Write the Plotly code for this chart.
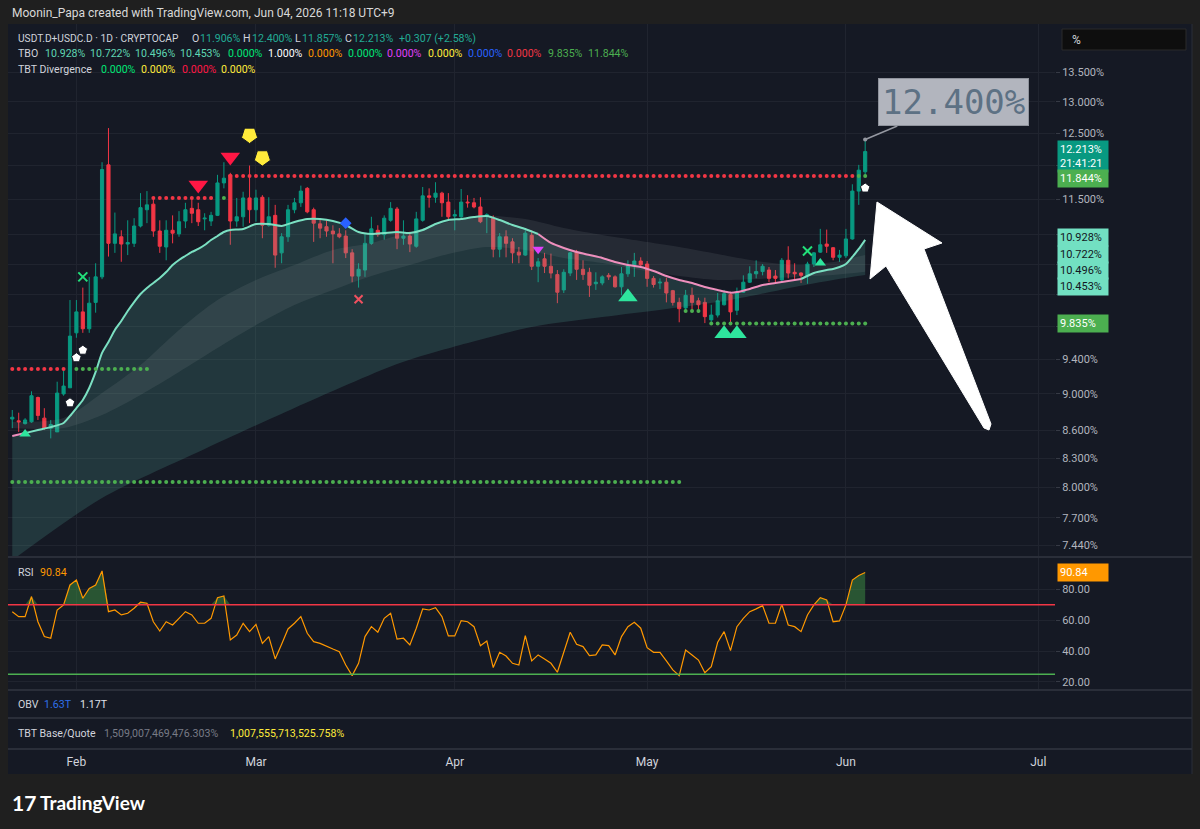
import math
import pandas as pd
import plotly.graph_objects as go

W, H = 1200, 829
def px(x): return x / W
def py(y): return 1 - y / H
def lg(v): return math.log10(v)

FONT = "Roboto, 'Noto Sans', sans-serif"
BG = "#151924"
OUTER = "#1f1f1f"
GRID = "#20242f"
SEP = "#2a2e39"
UP = "#089981"
DN = "#f23645"
TXT = "#d1d4dc"

# ---------------- data ----------------
dates = pd.date_range("2026-01-22", periods=134, freq="D")

opens = [8.72, 8.70, 8.67, 8.69, 8.96, 8.73, 8.62, 8.58, 9.00, 9.07,
         9.72, 9.98, 9.77, 10.10, 10.43, 12.01, 10.88, 10.97, 10.87, 10.88,
         11.12, 11.35, 11.43, 11.05, 10.83, 11.06, 11.01, 11.19, 11.37, 11.35,
         11.22, 11.19, 11.27, 11.74, 11.86, 11.19, 11.25, 11.52, 11.35, 11.53,
         11.13, 11.27, 10.75, 10.97, 11.35, 11.45, 11.66, 11.35, 11.15, 11.11,
         11.05, 11.01, 10.98, 10.75, 10.44, 10.52, 10.88, 11.06, 11.00, 11.20,
         11.36, 10.95, 10.98, 10.84, 11.20, 11.55, 11.53, 11.59, 11.46, 11.26,
         11.25, 11.46, 11.45, 11.39, 11.26, 11.23, 10.80, 10.97, 10.90, 10.76,
         10.72, 10.99, 10.57, 10.67, 10.57, 10.46, 10.26, 10.48, 10.76, 10.53,
         10.49, 10.34, 10.35, 10.45, 10.43, 10.30, 10.47, 10.57, 10.64, 10.60,
         10.41, 10.35, 10.36, 10.25, 10.10, 10.03, 10.19, 10.12, 10.10, 9.88,
         9.94, 10.07, 10.20, 10.00, 10.23, 10.36, 10.47, 10.50, 10.52, 10.44,
         10.39, 10.65, 10.49, 10.48, 10.44, 10.60, 10.76, 10.87, 10.82, 10.69,
         10.71, 10.94, 11.62, 11.906]
highs = [8.82, 8.79, 8.73, 9.03, 8.97, 8.84, 8.71, 9.14, 9.30, 10.13,
         10.13, 10.29, 10.43, 10.61, 12.05, 12.58, 11.31, 11.06, 11.20, 11.23,
         11.59, 11.62, 11.53, 11.20, 11.20, 11.27, 11.33, 11.45, 11.52, 11.45,
         11.30, 11.32, 11.86, 12.05, 11.89, 11.52, 11.61, 12.00, 11.64, 11.56,
         11.53, 11.42, 11.02, 11.42, 11.52, 11.70, 11.68, 11.38, 11.23, 11.20,
         11.13, 11.09, 11.06, 10.80, 10.61, 11.02, 11.25, 11.13, 11.27, 11.46,
         11.39, 11.20, 11.04, 11.32, 11.68, 11.66, 11.75, 11.61, 11.59, 11.35,
         11.65, 11.56, 11.52, 11.53, 11.30, 11.27, 11.02, 11.06, 10.95, 10.83,
         11.06, 11.06, 10.68, 10.75, 10.74, 10.52, 10.53, 10.76, 10.79, 10.65,
         10.55, 10.49, 10.45, 10.48, 10.45, 10.56, 10.65, 10.75, 10.69, 10.64,
         10.44, 10.41, 10.42, 10.26, 10.16, 10.26, 10.29, 10.16, 10.16, 10.07,
         10.22, 10.26, 10.22, 10.29, 10.45, 10.57, 10.65, 10.60, 10.56, 10.52,
         10.68, 10.84, 10.61, 10.49, 10.63, 10.76, 11.08, 11.07, 10.83, 10.79,
         11.08, 11.72, 12.01, 12.40]
lows = [8.62, 8.58, 8.66, 8.68, 8.71, 8.60, 8.51, 8.58, 8.98, 9.07,
        9.66, 9.72, 9.72, 9.97, 10.40, 10.70, 10.75, 10.63, 10.72, 10.83,
        11.10, 11.16, 10.97, 10.75, 10.65, 10.88, 10.97, 11.09, 11.16, 11.12,
        11.06, 11.12, 11.26, 11.66, 10.86, 11.11, 11.11, 11.16, 11.18, 10.95,
        11.11, 10.55, 10.61, 10.90, 11.30, 11.39, 11.30, 10.90, 10.95, 10.97,
        10.61, 10.95, 10.68, 10.36, 10.29, 10.43, 10.86, 10.97, 10.93, 11.18,
        10.80, 10.86, 10.76, 10.82, 11.18, 11.38, 11.45, 11.25, 11.20, 11.06,
        11.22, 11.38, 11.37, 11.16, 11.02, 10.69, 10.69, 10.69, 10.61, 10.61,
        10.71, 10.52, 10.36, 10.48, 10.41, 10.09, 10.22, 10.44, 10.39, 10.39,
        10.17, 10.26, 10.32, 10.39, 10.29, 10.19, 10.43, 10.43, 10.55, 10.30,
        10.29, 10.27, 10.10, 10.06, 9.85, 9.98, 10.00, 9.97, 9.84, 9.85,
        9.91, 10.06, 9.85, 9.94, 10.22, 10.35, 10.41, 10.45, 10.36, 10.35,
        10.36, 10.41, 10.39, 10.35, 10.34, 10.56, 10.75, 10.75, 10.65, 10.63,
        10.68, 10.93, 11.42, 11.857]
closes = [8.74, 8.69, 8.71, 8.98, 8.76, 8.62, 8.66, 9.01, 9.09, 9.68,
          9.98, 9.77, 10.09, 10.43, 11.94, 10.88, 11.01, 10.87, 10.89, 11.12,
          11.38, 11.42, 11.05, 10.84, 11.06, 11.02, 11.18, 11.35, 11.30, 11.18,
          11.23, 11.27, 11.74, 11.81, 11.19, 11.25, 11.52, 11.35, 11.52, 11.13,
          11.25, 10.72, 10.97, 11.35, 11.45, 11.62, 11.32, 11.16, 11.09, 11.05,
          11.01, 10.97, 10.75, 10.44, 10.53, 10.88, 11.08, 11.00, 11.23, 11.37,
          10.95, 10.98, 10.87, 11.22, 11.55, 11.53, 11.59, 11.45, 11.25, 11.28,
          11.46, 11.45, 11.39, 11.18, 11.28, 10.80, 10.97, 10.88, 10.75, 10.72,
          11.02, 10.57, 10.63, 10.57, 10.48, 10.23, 10.49, 10.75, 10.53, 10.46,
          10.32, 10.36, 10.43, 10.43, 10.30, 10.47, 10.58, 10.64, 10.59, 10.41,
          10.33, 10.36, 10.22, 10.10, 10.02, 10.19, 10.10, 10.07, 9.92, 9.94,
          10.12, 10.21, 9.98, 10.23, 10.36, 10.47, 10.50, 10.57, 10.41, 10.41,
          10.65, 10.48, 10.47, 10.45, 10.60, 10.75, 10.86, 10.84, 10.69, 10.72,
          10.94, 11.62, 11.93, 12.213]

rsi = [65.5, 62.3, 62.3, 75.3, 59.0, 49.4, 48.3, 66.6, 69.9, 82.8,
       86.0, 74.2, 80.6, 82.8, 91.9, 65.5, 66.6, 63.4, 64.5, 67.7,
       71.6, 71.0, 59.0, 53.0, 59.0, 56.9, 61.2, 65.5, 63.4, 58.0,
       58.0, 61.2, 74.6, 75.7, 47.2, 50.4, 58.0, 52.6, 57.3, 45.0,
       49.4, 34.9, 44.4, 54.3, 58.0, 62.3, 51.5, 46.1, 45.0, 42.9,
       41.3, 39.6, 31.0, 24.1, 32.1, 49.4, 55.8, 52.2, 61.2, 64.5,
       47.8, 48.3, 44.0, 54.8, 67.3, 66.6, 68.1, 62.3, 49.8, 49.8,
       59.7, 59.0, 55.8, 43.5, 46.5, 29.3, 39.2, 36.8, 32.1, 31.0,
       50.0, 33.6, 37.5, 34.9, 32.1, 26.3, 39.6, 52.2, 44.4, 42.9,
       37.1, 37.5, 44.0, 43.5, 37.5, 49.4, 55.8, 58.6, 54.8, 42.2,
       39.2, 39.2, 33.6, 27.8, 24.1, 40.7, 37.5, 34.2, 26.0, 29.9,
       45.7, 52.6, 40.3, 55.8, 61.2, 65.5, 67.3, 69.4, 58.0, 58.0,
       70.3, 56.9, 55.8, 52.6, 63.4, 69.9, 74.6, 73.1, 59.0, 59.5,
       69.9, 86.0, 88.9, 90.84]
rsi_upper, rsi_lower = 70, 25

# TBO fast line (sampled)
fast_dates = ["2026-01-22", "2026-01-24", "2026-01-26", "2026-01-28", "2026-01-30", "2026-01-31",
              "2026-02-01", "2026-02-02", "2026-02-03", "2026-02-04", "2026-02-05", "2026-02-06",
              "2026-02-07", "2026-02-08", "2026-02-09", "2026-02-10", "2026-02-11", "2026-02-12",
              "2026-02-13", "2026-02-14", "2026-02-15", "2026-02-16", "2026-02-17", "2026-02-18",
              "2026-02-19", "2026-02-20", "2026-02-21", "2026-02-22", "2026-02-23", "2026-02-24",
              "2026-02-25", "2026-02-27", "2026-03-01", "2026-03-03", "2026-03-05", "2026-03-07",
              "2026-03-09", "2026-03-11", "2026-03-13", "2026-03-15", "2026-03-17", "2026-03-19",
              "2026-03-21", "2026-03-23", "2026-03-25", "2026-03-27", "2026-03-29", "2026-03-31",
              "2026-04-02", "2026-04-04", "2026-04-06", "2026-04-08", "2026-04-10", "2026-04-12",
              "2026-04-14", "2026-04-16", "2026-04-18", "2026-04-20", "2026-04-22", "2026-04-24",
              "2026-04-26", "2026-04-28", "2026-04-30", "2026-05-02", "2026-05-04", "2026-05-06",
              "2026-05-08", "2026-05-10", "2026-05-12", "2026-05-14", "2026-05-15", "2026-05-17",
              "2026-05-19", "2026-05-21", "2026-05-23", "2026-05-25", "2026-05-27", "2026-05-29",
              "2026-05-30", "2026-05-31", "2026-06-01", "2026-06-02", "2026-06-03", "2026-06-04"]
fast_vals = [8.536, 8.567, 8.600, 8.632, 8.677, 8.754,
             8.842, 8.932, 9.068, 9.253, 9.477, 9.609,
             9.755, 9.866, 9.991, 10.104, 10.207, 10.285,
             10.350, 10.415, 10.494, 10.587, 10.654, 10.708,
             10.762, 10.803, 10.857, 10.926, 10.981, 11.036,
             11.064, 11.078, 11.148, 11.148, 11.120, 11.176,
             11.218, 11.218, 11.190, 11.134, 11.036, 11.009,
             11.022, 11.036, 11.022, 11.064, 11.148, 11.204,
             11.218, 11.246, 11.260, 11.204, 11.134, 11.078,
             11.009, 10.885, 10.816, 10.762, 10.721, 10.681,
             10.627, 10.587, 10.560, 10.507, 10.441, 10.389,
             10.350, 10.298, 10.259, 10.225, 10.232, 10.272,
             10.324, 10.350, 10.376, 10.402, 10.481, 10.520,
             10.534, 10.560, 10.601, 10.695, 10.803, 10.928]

# TBO mid lines and slow line (sampled)
band_dates = ["2026-01-22", "2026-01-30", "2026-02-05", "2026-02-11", "2026-02-17", "2026-02-23",
              "2026-03-01", "2026-03-07", "2026-03-13", "2026-03-19", "2026-03-25", "2026-03-31",
              "2026-04-06", "2026-04-12", "2026-04-18", "2026-04-24", "2026-04-30", "2026-05-06",
              "2026-05-12", "2026-05-18", "2026-05-24", "2026-05-30", "2026-06-04"]
mid_vals = [8.688, 8.732, 9.011, 9.334, 9.755, 10.130,
            10.389, 10.587, 10.789, 10.885, 11.036, 11.176,
            11.260, 11.218, 11.092, 10.995, 10.912, 10.830,
            10.735, 10.641, 10.587, 10.627, 10.722]
mid2_vals = [8.622, 8.622, 8.765, 8.989, 9.253, 9.536,
             9.816, 10.067, 10.259, 10.441, 10.587, 10.735,
             10.830, 10.789, 10.681, 10.614, 10.520, 10.441,
             10.389, 10.402, 10.428, 10.454, 10.496]
slow_dates = ["2026-01-22", "2026-02-05", "2026-02-20", "2026-03-07", "2026-03-23", "2026-03-30",
              "2026-04-13", "2026-04-24", "2026-05-04", "2026-05-14", "2026-05-24", "2026-05-30",
              "2026-06-04"]
slow_vals = [7.30, 7.895, 8.366, 8.843, 9.346, 9.512,
             9.792, 9.915, 10.016, 10.130, 10.298, 10.389, 10.453]

# dotted support / resistance levels
red_level_start = ["2026-01-22", "2026-02-13", "2026-02-25"]
red_level_end = ["2026-01-30", "2026-02-22", "2026-06-02"]
red_level_val = [9.288, 11.519, 11.844]
green_level_start = ["2026-02-01", "2026-02-24", "2026-06-03", "2026-01-22", "2026-05-07", "2026-05-11"]
green_level_end = ["2026-02-12", "2026-02-24", "2026-06-04", "2026-05-06", "2026-05-09", "2026-06-04"]
green_level_val = [9.288, 11.519, 11.844, 8.055, 9.99, 9.835]

# signal markers
sell_tri_dates = ["2026-02-20", "2026-02-25"]
sell_tri_vals = [11.71, 12.13]
yellow_dates = ["2026-02-28", "2026-03-02"]
yellow_vals = [12.47, 12.12]
white_dates = ["2026-01-31", "2026-02-01", "2026-02-02", "2026-06-04"]
white_vals = [8.90, 9.42, 9.51, 11.665]
greenx_dates = ["2026-02-02", "2026-05-26"]
greenx_vals = [10.43, 10.775]
redx_dates = ["2026-03-17"]
redx_vals = [10.14]
blue_dates = ["2026-03-15"]
blue_vals = [11.16]
magenta_dates = ["2026-04-14"]
magenta_vals = [10.80]
buy_big_dates = ["2026-04-28", "2026-05-13", "2026-05-15"]
buy_big_vals = [10.17, 9.71, 9.71]
buy_small_dates = ["2026-01-24", "2026-05-28"]
buy_small_vals = [8.557, 10.614]

last_close = 12.213
last_high = 12.400

price_ticks = [7.44, 7.7, 8.0, 8.3, 8.6, 9.0, 9.4, 9.8, 10.2, 10.6, 11.0, 11.5, 12.0, 12.5, 13.0, 13.5]
hidden_ticks = [9.8, 10.2, 10.6, 11.0, 12.0]   # labels covered by the price tags
rsi_ticks = [20, 40, 60, 80]
month_ticks = ["2026-02-01", "2026-03-01", "2026-04-01", "2026-05-01", "2026-06-01", "2026-07-01"]
month_names = ["Feb", "Mar", "Apr", "May", "Jun", "Jul"]

# ---------------- figure ----------------
X0, X1 = "2026-01-21 08:00", "2026-07-03 14:24"
fig = go.Figure()

# ribbon fills
fig.add_trace(go.Scatter(x=slow_dates, y=slow_vals, mode="lines",
                         line=dict(width=0, shape="spline", smoothing=0.8), hoverinfo="skip"))
fig.add_trace(go.Scatter(x=fast_dates, y=fast_vals, mode="lines",
                         line=dict(width=0, shape="spline", smoothing=0.6), fill="tonexty",
                         fillcolor="rgba(80,165,150,0.22)", hoverinfo="skip"))
fig.add_trace(go.Scatter(x=band_dates, y=mid2_vals, mode="lines",
                         line=dict(width=0, shape="spline", smoothing=0.8), hoverinfo="skip"))
fig.add_trace(go.Scatter(x=band_dates, y=mid_vals, mode="lines",
                         line=dict(width=0, shape="spline", smoothing=0.8), fill="tonexty",
                         fillcolor="rgba(170,178,185,0.11)", hoverinfo="skip"))

# candles
fig.add_trace(go.Candlestick(
    x=dates, open=opens, high=highs, low=lows, close=closes,
    increasing=dict(line=dict(color=UP, width=1), fillcolor=UP),
    decreasing=dict(line=dict(color=DN, width=1), fillcolor=DN),
    whiskerwidth=0, hoverinfo="skip"))

# fast line, coloured segments
i_apr14 = fast_dates.index("2026-04-14")
i_may25 = fast_dates.index("2026-05-25")
TEAL_L = "#7be0c2"
PINK_L = "#ee8fbd"
segs = [(0, 2, PINK_L), (1, i_apr14 + 1, TEAL_L), (i_apr14, i_may25 + 1, PINK_L), (i_may25, len(fast_dates), TEAL_L)]
for a, b, c in segs:
    fig.add_trace(go.Scatter(x=fast_dates[a:b], y=fast_vals[a:b], mode="lines",
                             line=dict(color=c, width=2, shape="spline", smoothing=0.6), hoverinfo="skip"))

# dotted levels
for s, e, v in zip(red_level_start, red_level_end, red_level_val):
    d = pd.date_range(s, e, freq="D")
    fig.add_trace(go.Scatter(x=d, y=[v] * len(d), mode="markers",
                             marker=dict(color="#f23645", size=4), hoverinfo="skip"))
for s, e, v in zip(green_level_start, green_level_end, green_level_val):
    d = pd.date_range(s, e, freq="D")
    fig.add_trace(go.Scatter(x=d, y=[v] * len(d), mode="markers",
                             marker=dict(color="#4caf50", size=4), hoverinfo="skip"))

# markers
def mk(xs, ys, **m):
    fig.add_trace(go.Scatter(x=xs, y=ys, mode="markers", marker=m, hoverinfo="skip"))

mk(sell_tri_dates, sell_tri_vals, symbol="triangle-down", size=17, color="#ff1744", line=dict(width=0))
mk(yellow_dates, yellow_vals, symbol="pentagon", angle=180, size=17, color="#ffeb3b",
   line=dict(width=1, color="#151924"))
mk(white_dates, white_vals, symbol="pentagon", size=10, color="#ffffff", line=dict(width=1, color="#151924"))
mk(greenx_dates, greenx_vals, symbol="x-thin", size=9, color="#22e07a", line=dict(width=2, color="#22e07a"))
mk(redx_dates, redx_vals, symbol="x-thin", size=8, color="#f0505f", line=dict(width=2, color="#f0505f"))
mk(blue_dates, blue_vals, symbol="diamond", size=9, color="#2962ff", line=dict(width=0))
mk(magenta_dates, magenta_vals, symbol="triangle-down", size=10, color="#e040fb", line=dict(width=0))
mk(buy_big_dates, buy_big_vals, symbol="triangle-up", size=17, color="#2ee59d", line=dict(width=0))
mk(buy_small_dates, buy_small_vals, symbol="triangle-up", size=10, color="#2ee59d", line=dict(width=0))

# RSI pane
rsi_over = [max(v, rsi_upper) for v in rsi]
fig.add_trace(go.Scatter(x=dates, y=[rsi_upper] * len(dates), mode="lines", line=dict(width=0),
                         xaxis="x2", yaxis="y2", hoverinfo="skip"))
fig.add_trace(go.Scatter(x=dates, y=rsi_over, mode="lines", line=dict(width=0), fill="tonexty",
                         fillcolor="rgba(67,160,71,0.45)", xaxis="x2", yaxis="y2", hoverinfo="skip"))
fig.add_trace(go.Scatter(x=dates, y=rsi, mode="lines", line=dict(color="#ff9800", width=1.2),
                         xaxis="x2", yaxis="y2", hoverinfo="skip"))

# dummy for date label axis
fig.add_trace(go.Scatter(x=[None], y=[None], xaxis="x3", yaxis="y3", mode="markers", hoverinfo="skip"))

# ---------------- shapes ----------------
shapes = []
shapes.append(dict(type="rect", xref="paper", yref="paper", x0=px(8), x1=px(1192), y0=py(774), y1=py(24),
                   fillcolor=BG, line=dict(width=0), layer="below"))
for yy in [557, 690, 718, 749]:
    shapes.append(dict(type="line", xref="paper", yref="paper", x0=px(8), x1=px(1192), y0=py(yy), y1=py(yy),
                       line=dict(color=SEP, width=2)))
shapes.append(dict(type="line", xref="paper", yref="paper", x0=px(1192), x1=px(1192), y0=py(774), y1=py(24),
                   line=dict(color=SEP, width=1)))
# RSI bands
shapes.append(dict(type="line", xref="paper", yref="y2", x0=px(8), x1=px(1055), y0=rsi_upper, y1=rsi_upper,
                   line=dict(color="#f23645", width=1.5)))
shapes.append(dict(type="line", xref="paper", yref="y2", x0=px(8), x1=px(1055), y0=rsi_lower, y1=rsi_lower,
                   line=dict(color="#4caf50", width=1.5)))
# last price line
shapes.append(dict(type="line", xref="paper", yref="y", x0=px(8), x1=px(1055), y0=lg(last_close),
                   y1=lg(last_close), line=dict(color=UP, width=1, dash="dot")))
# "%" box
shapes.append(dict(type="rect", xref="paper", yref="paper", x0=px(1062), x1=px(1186), y0=py(50), y1=py(29),
                   fillcolor="#0e0e0e", line=dict(color="#2a2a2a", width=1)))
# big white arrow
arrow_pts = [(877, 202), (942, 243), (924, 249), (991, 424), (989, 430), (984, 428), (886, 266), (870, 279)]
path = "M " + " L ".join(f"{px(x):.5f},{py(y):.5f}" for x, y in arrow_pts) + " Z"
shapes.append(dict(type="path", xref="paper", yref="paper", path=path, fillcolor="#ffffff",
                   line=dict(color="#ffffff", width=1)))

# ---------------- annotations ----------------
ann = []
def txt(x, y, s, color=TXT, size=11, family=FONT, anchor="left"):
    ann.append(dict(x=px(x), y=py(y), xref="paper", yref="paper", text=s, showarrow=False,
                    xanchor=anchor, yanchor="middle", font=dict(color=color, size=size, family=family)))

txt(10, 13, "Moonin_Papa created with TradingView.com, Jun 04, 2026 11:18 UTC+9", "#d9d9d9", 12)

VAL = "#22ab94"
h1 = [("O", 190, TXT), ("11.906%", 198, VAL), ("H", 241, TXT),
      ("12.400%", 250, VAL), ("L", 293, TXT), ("11.857%", 300, VAL), ("C", 343, TXT), ("12.213%", 351, VAL),
      ("+0.307 (+2.58%)", 397, VAL)]
txt(16, 38, "USDT.D+USDC.D · 1D · CRYPTOCAP", TXT, 10.2)
for s, x, c in h1:
    txt(x, 38, s, c, 10.6)

tbo_vals = ["10.928%", "10.722%", "10.496%", "10.453%", "0.000%", "1.000%", "0.000%", "0.000%", "0.000%",
            "0.000%", "0.000%", "0.000%", "9.835%", "11.844%"]
tbo_x = [43, 88, 133, 178, 226, 266, 306, 346, 385, 426, 466, 505, 546, 586]
tbo_c = ["#5fd6b3", "#5fd6b3", "#5fd6b3", "#5fd6b3", "#00e676", "#ffffff", "#ff9800", "#00e676", "#e040fb",
         "#ffeb3b", "#2962ff", "#f23645", "#4caf50", "#4caf50"]
txt(16, 53, "TBO", TXT, 10.6)
for s, x, c in zip(tbo_vals, tbo_x, tbo_c):
    txt(x, 53, s, c, 10.6)

txt(16, 69, "TBT Divergence", TXT, 10.6)
for s, x, c in zip(["0.000%"] * 4, [99, 139, 180, 219], ["#00e676", "#ffeb3b", "#ff1744", "#ffeb3b"]):
    txt(x, 69, s, c, 10.6)

txt(1070, 40, "%", "#d1d4dc", 12)

txt(16, 572, "RSI", TXT, 10.6)
txt(38, 572, "90.84", "#ff9800", 10.6)
txt(16, 704, "OBV", TXT, 10.6)
txt(42, 704, "1.63T", "#2f6fe8", 10.6)
txt(78, 704, "1.17T", "#e0e3eb", 10.6)
txt(16, 733, "TBT Base/Quote", TXT, 10.6)
txt(102, 733, "1,509,007,469,476.303%", "#787b86", 10.6)
txt(228, 733, "1,007,555,713,525.758%", "#ffeb3b", 10.6)

txt(10, 802, "<b>17</b>", "#ffffff", 21, "Lato, sans-serif")
txt(38, 802, "<b>TradingView</b>", "#ffffff", 19, "Lato, sans-serif")

# price tags on axis
def tag(v, text, bg, fg, yref="y", yshift=0, logv=True):
    ann.append(dict(x=px(1057), xref="paper", xanchor="left", y=lg(v) if logv else v, yref=yref,
                    yanchor="middle", yshift=yshift, text=text, showarrow=False, bgcolor=bg,
                    font=dict(color=fg, size=11, family=FONT), borderpad=2, width=46, align="left"))

tag(12.213, "12.213%<br>21:41:21", UP, "#ffffff", yshift=-5)
tag(11.844, "11.844%", "#4caf50", "#ffffff", yshift=-3)
tag(10.928, "10.928%", "#72e0c2", "#131722", yshift=2)
tag(10.722, "10.722%", "#72e0c2", "#131722", yshift=0)
tag(10.496, "10.496%", "#72e0c2", "#131722", yshift=1)
tag(10.453, "10.453%", "#72e0c2", "#131722", yshift=-11)
tag(9.835, "9.835%", "#4caf50", "#ffffff", yshift=0)
tag(90.84, "90.84", "#ff9800", "#ffffff", yref="y2", logv=False)

# 12.400% callout
ann.append(dict(x=dates[-1], y=lg(last_high), xref="x", yref="y", text="12.400%", showarrow=True,
                ax=88, ay=-37, arrowhead=6, arrowsize=0.7, arrowwidth=1.5, arrowcolor="#9598a1",
                bgcolor="#b2b5be", bordercolor="#8f939c", borderwidth=1, borderpad=3,
                font=dict(family="DejaVu Sans Mono, monospace", size=34, color="#5d7184")))

# ---------------- layout ----------------
YMIN_LOG, YMAX_LOG = 0.86506, 1.15659
fig.update_layout(
    width=W, height=H, margin=dict(l=0, r=0, t=0, b=0),
    paper_bgcolor=OUTER, plot_bgcolor=BG, showlegend=False, hovermode=False,
    font=dict(family=FONT, color="#b2b5be", size=11),
    shapes=shapes, annotations=ann,
    xaxis=dict(domain=[px(8), px(1055)], range=[X0, X1], type="date", anchor="y", showticklabels=False,
               showgrid=True, gridcolor=GRID, tickvals=month_ticks, zeroline=False, ticks="",
               rangeslider=dict(visible=False), showline=False),
    yaxis=dict(domain=[py(557), py(24)], type="log", range=[YMIN_LOG, YMAX_LOG], side="right", anchor="x",
               tickvals=price_ticks,
               ticktext=["" if v in hidden_ticks else f"{v:.3f}%" for v in price_ticks], showgrid=True,
               gridcolor=GRID, zeroline=False, ticks="outside", ticklen=4, tickcolor="#363a45",
               tickfont=dict(size=11, color="#b2b5be"), showline=False),
    xaxis2=dict(domain=[px(8), px(1055)], matches="x", range=[X0, X1], type="date", anchor="y2",
                showticklabels=False, showgrid=True, gridcolor=GRID, tickvals=month_ticks, ticks="",
                zeroline=False, showline=False),
    yaxis2=dict(domain=[py(690), py(557)], range=[14.8, 100.9], side="right", anchor="x2",
                tickvals=rsi_ticks, ticktext=[f"{v:.2f}" for v in rsi_ticks], showgrid=True, gridcolor=GRID,
                zeroline=False, ticks="outside", ticklen=4, tickcolor="#363a45",
                tickfont=dict(size=11, color="#b2b5be"), showline=False),
    xaxis3=dict(domain=[px(8), px(1055)], range=[X0, X1], type="date", anchor="y3", tickvals=month_ticks,
                ticktext=month_names, showgrid=False, ticks="", zeroline=False, showline=False,
                tickfont=dict(size=12, color="#d1d4dc")),
    yaxis3=dict(domain=[py(753), py(750)], visible=False, anchor="x3", showgrid=False),
)

fig.write_html("out.html", config={"displayModeBar": False})
